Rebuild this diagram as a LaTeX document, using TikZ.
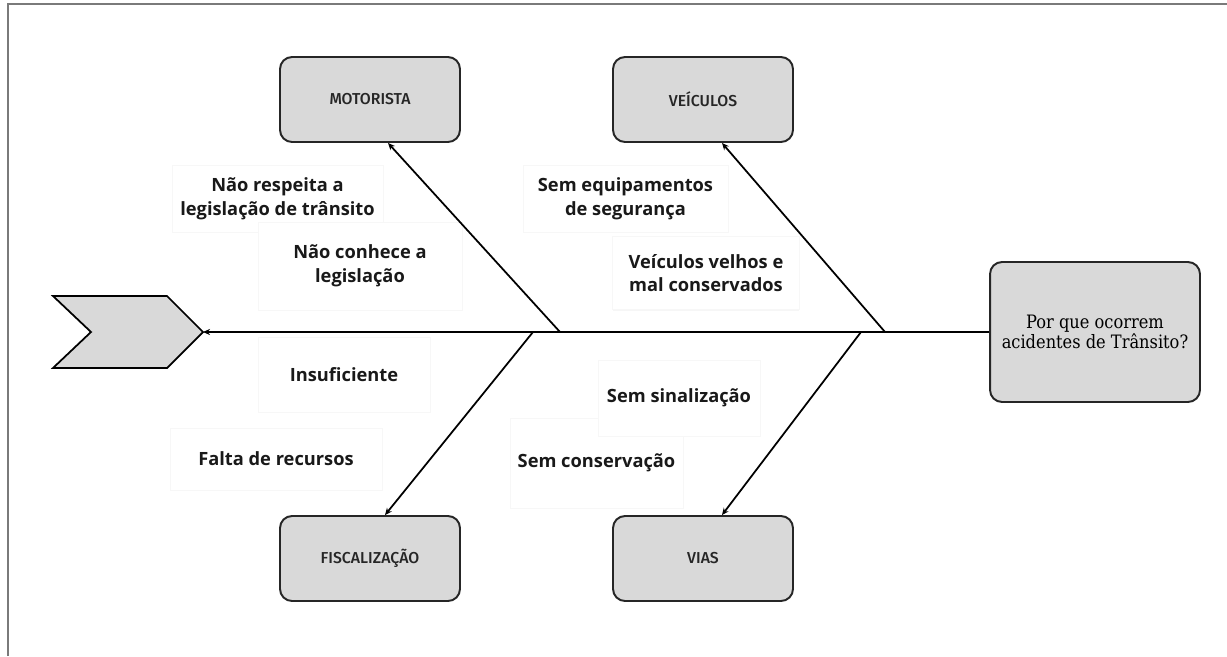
\documentclass[tikz,border=0pt]{standalone}
\usepackage{fontspec}
\usepackage{xcolor}
\usepackage{tikz}
\usetikzlibrary{arrows.meta,shadows}
\newfontfamily\causefont{Open Sans}
\newfontfamily\groupfont{Fira Sans}[UprightFont={* Medium}]
\newfontfamily\slabfont[FakeStretch=0.88]{DejaVu Serif}
\definecolor{boxgray}{HTML}{D9D9D9}
\definecolor{framegray}{HTML}{7A7A7A}

\begin{document}
\begin{tikzpicture}[x=0.02cm, y=-0.02cm,
  group/.style={draw=black!85, line width=1.1pt, rounded corners=0.24cm, fill=boxgray, minimum width=3.6cm, minimum height=1.7cm, font=\groupfont\fontsize{9pt}{10.5pt}\selectfont, text=black!85},
  cause/.style={fill=white, draw=black!3, align=center, font=\causefont\bfseries\fontsize{10.4pt}{13.5pt}\selectfont, text=black!90, drop shadow={shadow xshift=0pt, shadow yshift=-0.7pt, opacity=0.07}},
  bone/.style={line width=1pt, -{Stealth[length=4pt, width=3.5pt]}}]%
\useasboundingbox (0,0) rectangle (1227,656);%
\draw[framegray, line width=1.2pt] (8,656) -- (8,4) -- (1227,4);%
% causes
\node[cause, minimum width=4.22cm, minimum height=1.34cm] (respeita) at (277.5,198.5) {N\~ao respeita a\\legisla\c{c}\~ao de tr\^ansito};%
\node[cause, minimum width=4.08cm, minimum height=1.76cm] (conhece) at (360,266) {N\~ao conhece a\\legisla\c{c}\~ao};%
\node[cause, minimum width=4.1cm, minimum height=1.34cm] (equip) at (625.5,198.5) {Sem equipamentos\\de seguran\c{c}a};%
\node[cause, minimum width=3.74cm, minimum height=1.46cm] (velhos) at (706,273) {Ve\'iculos velhos e\\mal conservados};%
\node[cause, minimum width=3.44cm, minimum height=1.5cm] (insuf) at (344,374.5) {Insuficiente};%
\node[cause, minimum width=4.24cm, minimum height=1.24cm] (falta) at (276,459) {Falta de recursos};%
\node[cause, minimum width=3.46cm, minimum height=1.8cm] (conserv) at (596.5,463) {Sem conserva\c{c}\~ao};%
\node[cause, minimum width=3.24cm, minimum height=1.52cm] (sinal) at (679,398) {Sem sinaliza\c{c}\~ao};%
% groups and effect
\node[group] (motorista) at (370,99.5) {MOTORISTA};%
\node[group] (veiculos) at (703,99.5) {VE\'ICULOS};%
\node[group] (fiscal) at (370,558.5) {FISCALIZA\c{C}\~AO};%
\node[group] (vias) at (703,558.5) {VIAS};%
\node[group, minimum width=4.2cm, minimum height=2.8cm, align=center, font=\slabfont\fontsize{10.5pt}{11pt}\selectfont, text=black] (effect) at (1095,332) {Por que ocorrem\\acidentes de Tr\^ansito?};%
% head
\draw[fill=boxgray, line width=1pt, line join=miter] (53,296) -- (167,296) -- (203,332) -- (167,368) -- (53,368) -- (91,332) -- cycle;%
\coordinate (head) at (203,332);%
\coordinate (jm) at (560,332);%
\coordinate (jv) at (885,332);%
\coordinate (jf) at (533,332);%
\coordinate (jw) at (861,332);%
% spine and bones
\draw[bone] (effect.west) -- (head);%
\draw[bone] (jm) -- ([xshift=0.36cm]motorista.south);%
\draw[bone] (jv) -- ([xshift=0.38cm]veiculos.south);%
\draw[bone] (jf) -- ([xshift=0.3cm]fiscal.north);%
\draw[bone] (jw) -- ([xshift=0.38cm]vias.north);%
\end{tikzpicture}
\end{document}
